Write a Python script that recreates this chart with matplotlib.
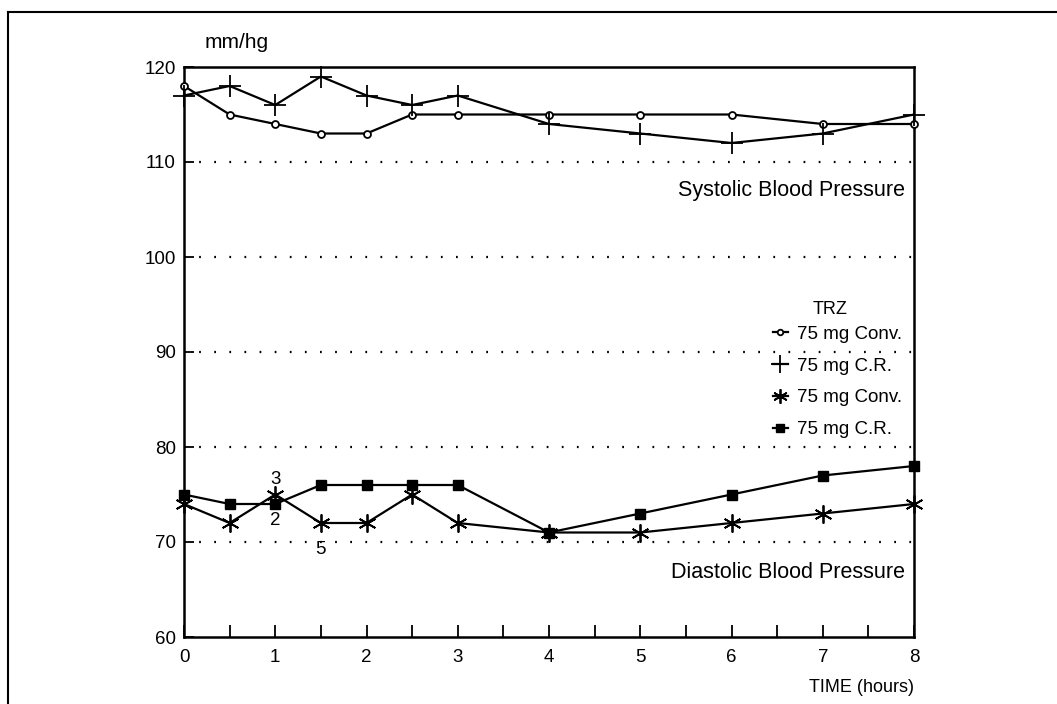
import numpy as np
import matplotlib
matplotlib.use("Agg")
import matplotlib.pyplot as plt
from matplotlib.lines import Line2D

plt.rcParams['font.family'] = ['Liberation Sans', 'DejaVu Sans']

# time points (hours)
hours = [0, 0.5, 1, 1.5, 2, 2.5, 3, 4, 5, 6, 7, 8]

# systolic blood pressure
sys_conv = [118, 115, 114, 113, 113, 115, 115, 115, 115, 115, 114, 114]
sys_cr = [117, 118, 116, 119, 117, 116, 117, 114, 113, 112, 113, 115]

# diastolic blood pressure
dia_conv = [74, 72, 75, 72, 72, 75, 72, 71, 71, 72, 73, 74]
dia_cr = [75, 74, 74, 76, 76, 76, 76, 71, 73, 75, 77, 78]

grid_levels = [70, 80, 90, 100, 110]
y_ticks = [60, 70, 80, 90, 100, 110, 120]
x_ticks = [0, 1, 2, 3, 4, 5, 6, 7, 8]

fig = plt.figure(figsize=(10.57, 7.04), dpi=100)
ax = fig.add_axes([184 / 1057, 1 - 637 / 704, 730 / 1057, 570 / 704])

for g in grid_levels:
    ax.axhline(g, color='black', lw=1.6, ls=(0, (0.8, 6)), zorder=1)

star = (6, 2, 0)
l1, = ax.plot(hours, sys_conv, color='black', lw=1.6, marker='o', ms=5,
              mfc='white', mew=1.3, clip_on=False, zorder=3)
l2, = ax.plot(hours, sys_cr, color='black', lw=1.6, marker='+', ms=16,
              mew=1.3, clip_on=False, zorder=3)
l3, = ax.plot(hours, dia_conv, color='black', lw=1.6, marker=star, ms=13,
              mew=1.3, clip_on=False, zorder=3)
l4, = ax.plot(hours, dia_cr, color='black', lw=1.6, marker='s', ms=7,
              clip_on=False, zorder=3)

ax.set_xlim(0, 8)
ax.set_ylim(60, 120)
ax.set_xticks(x_ticks)
ax.set_xticks(np.arange(0, 8.5, 0.5), minor=True)
ax.set_yticks(y_ticks)
ax.tick_params(axis='both', direction='in', length=9, width=1.3,
               labelsize=13.5, pad=6)
ax.tick_params(axis='x', pad=9)
ax.tick_params(axis='x', which='minor', direction='in', length=9, width=1.3)
ax.tick_params(axis='y', length=7)
for s in ax.spines.values():
    s.set_linewidth(1.8)

# annotations for overlapping points
ax.text(1, 76.6, '3', ha='center', va='center', fontsize=13.5)
ax.text(1, 72.3, '2', ha='center', va='center', fontsize=13.5)
ax.text(1.5, 69.2, '5', ha='center', va='center', fontsize=13.5)

ax.text(7.9, 107.0, 'Systolic Blood Pressure', ha='right', va='center', fontsize=15.5)
ax.text(7.9, 66.8, 'Diastolic Blood Pressure', ha='right', va='center', fontsize=15.5)

leg = ax.legend([l1, l2, l3, l4],
                ['75 mg Conv.', '75 mg C.R.', '75 mg Conv.', '75 mg C.R.'],
                loc='upper right', bbox_to_anchor=(1.007, 0.5755),
                frameon=False, fontsize=13.5,
                handlelength=0.8, handletextpad=0.5, labelspacing=0.78,
                markerscale=0.8)
ax.text((830 - 184) / 730, (637 - 310) / 570, 'TRZ', transform=ax.transAxes,
        ha='center', va='center', fontsize=13)

fig.text(237 / 1057, 1 - 42 / 704, 'mm/hg', ha='center', va='center', fontsize=15)
fig.text(914 / 1057, 1 - 688 / 704, 'TIME (hours)', ha='right', va='center', fontsize=13)

# outer frame
fig.add_artist(Line2D([8 / 1057, 8 / 1057], [0, 1 - 12 / 704], color='black', lw=1.5))
fig.add_artist(Line2D([8 / 1057, 1], [1 - 12 / 704, 1 - 12 / 704], color='black', lw=1.5))

fig.savefig('out.png', dpi=100, facecolor='white')
